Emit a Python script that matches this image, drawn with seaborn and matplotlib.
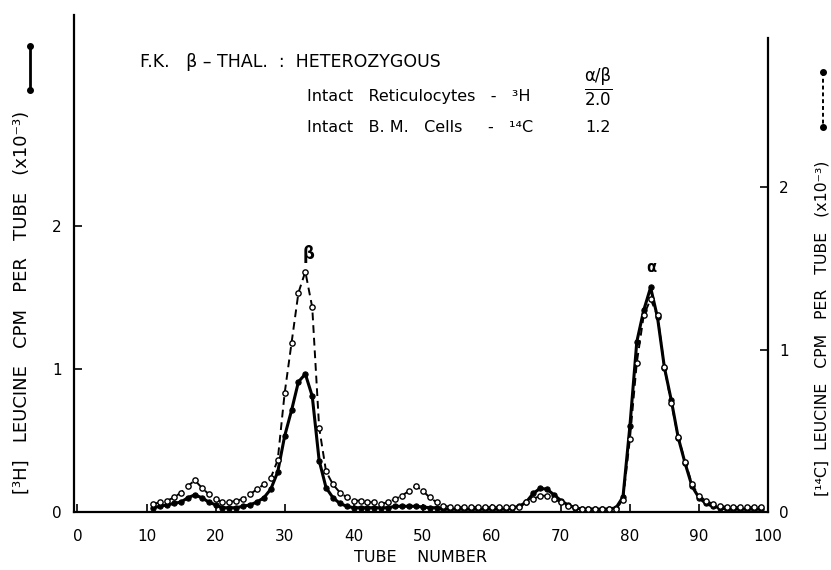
import matplotlib
matplotlib.use("Agg")
import matplotlib.pyplot as plt
import seaborn as sns
import pandas as pd
from matplotlib.lines import Line2D

# ---- data ----
tubes = list(range(11, 100))
h3_cpm = [  # [3H] leucine, left axis (x10^-3)
    0.03, 0.04, 0.05, 0.06, 0.07, 0.10, 0.12, 0.10, 0.07, 0.05,   # 11-20
    0.03, 0.03, 0.03, 0.04, 0.05, 0.07, 0.10, 0.16, 0.28, 0.53,   # 21-30
    0.71, 0.91, 0.965, 0.81, 0.36, 0.17, 0.10, 0.06, 0.04, 0.03,  # 31-40
    0.03, 0.03, 0.03, 0.03, 0.03, 0.04, 0.04, 0.04, 0.04, 0.035,  # 41-50
    0.03, 0.03, 0.02, 0.02, 0.02, 0.02, 0.02, 0.02, 0.02, 0.02,   # 51-60
    0.02, 0.02, 0.03, 0.04, 0.07, 0.13, 0.165, 0.16, 0.12, 0.08,  # 61-70
    0.05, 0.03, 0.02, 0.02, 0.02, 0.02, 0.02, 0.03, 0.105, 0.60,  # 71-80
    1.19, 1.41, 1.57, 1.36, 1.01, 0.78, 0.52, 0.34, 0.18, 0.10,   # 81-90
    0.06, 0.04, 0.03, 0.02, 0.02, 0.02, 0.02, 0.02, 0.02,         # 91-99
]
c14_cpm = [  # [14C] leucine, right axis (x10^-3)
    0.05, 0.06, 0.07, 0.09, 0.12, 0.16, 0.195, 0.15, 0.11, 0.08,  # 11-20
    0.06, 0.06, 0.07, 0.08, 0.11, 0.14, 0.17, 0.21, 0.32, 0.73,   # 21-30
    1.04, 1.35, 1.48, 1.26, 0.52, 0.25, 0.17, 0.12, 0.09, 0.07,   # 31-40
    0.07, 0.06, 0.06, 0.05, 0.06, 0.08, 0.10, 0.13, 0.16, 0.13,   # 41-50
    0.09, 0.06, 0.04, 0.03, 0.03, 0.03, 0.03, 0.03, 0.03, 0.03,   # 51-60
    0.03, 0.03, 0.03, 0.03, 0.06, 0.08, 0.10, 0.10, 0.08, 0.06,   # 61-70
    0.04, 0.03, 0.02, 0.02, 0.02, 0.02, 0.02, 0.02, 0.074, 0.45,  # 71-80
    0.92, 1.21, 1.31, 1.21, 0.89, 0.67, 0.46, 0.31, 0.17, 0.10,   # 81-90
    0.07, 0.05, 0.04, 0.03, 0.03, 0.03, 0.03, 0.03, 0.03,         # 91-99
]
x_ticks = [0, 10, 20, 30, 40, 50, 60, 70, 80, 90, 100]
left_ticks = [0, 1, 2]
right_ticks = [0, 1, 2]

df = pd.DataFrame({"tube": tubes, "h3": h3_cpm, "c14": c14_cpm})

sns.set_style("ticks")
plt.rcParams["font.family"] = ["DejaVu Sans"]
plt.rcParams["text.color"] = "black"
plt.rcParams["xtick.color"] = "black"
plt.rcParams["ytick.color"] = "black"
plt.rcParams["axes.edgecolor"] = "black"

W, H = 831, 570
fig = plt.figure(figsize=(W / 100, H / 100), dpi=100)
ax = fig.add_axes([74 / W, 1 - 512 / H, (768 - 74) / W, (512 - 15) / H])
ax2 = ax.twinx()

sns.lineplot(data=df, x="tube", y="h3", ax=ax, color="black", linewidth=2.2,
             marker="o", markersize=3.8, markerfacecolor="black",
             markeredgecolor="black")
sns.lineplot(data=df, x="tube", y="c14", ax=ax2, color="black", linewidth=1.4,
             linestyle=(0, (4, 2.5)), marker="o", markersize=3.8,
             markerfacecolor="white", markeredgecolor="black",
             markeredgewidth=1.0)

ax.set_xlim(-0.5, 100)
ax.set_ylim(0, 3.475)
ax2.set_ylim(0, 3.06)

for a in (ax, ax2):
    a.set_xlabel("")
    a.set_ylabel("")
    a.spines["top"].set_visible(False)
ax.spines["right"].set_visible(False)
ax2.spines["left"].set_visible(False)
ax2.spines["bottom"].set_visible(False)
ax2.spines["right"].set_bounds(0, 2.92)
for s in ("left", "bottom"):
    ax.spines[s].set_linewidth(1.6)
ax2.spines["right"].set_linewidth(1.6)

ax.set_xticks(x_ticks)
ax.set_xticklabels([str(t) for t in x_ticks], fontsize=11)
ax.set_yticks(left_ticks)
ax.set_yticklabels([str(t) for t in left_ticks], fontsize=11)
ax2.set_yticks(right_ticks)
ax2.set_yticklabels([str(t) for t in right_ticks], fontsize=11)
ax.tick_params(axis="x", direction="in", length=6, width=1.2, pad=12)
ax.tick_params(axis="y", direction="in", length=6, width=1.2, pad=9)
ax2.tick_params(axis="y", direction="in", length=6, width=1.2, pad=8)

def ftext(x, y, s, **kw):
    fig.text(x / W, 1 - y / H, s, **kw)

ftext(420, 558, "TUBE    NUMBER", ha="center", va="center", fontsize=11.5)
ftext(22, 302, "[³H]   LEUCINE   CPM   PER   TUBE   (x10⁻³)", rotation=90,
      ha="center", va="center", fontsize=13)
ftext(822, 328, "[¹⁴C]  LEUCINE   CPM   PER   TUBE   (x10⁻³)", rotation=90,
      ha="center", va="center", fontsize=11.3)

ftext(140, 62, "F.K.   β – THAL.  :  HETEROZYGOUS", ha="left", va="center",
      fontsize=12.5)
ftext(307, 97, "Intact   Reticulocytes   -   ³H", ha="left", va="center",
      fontsize=11.5)
ftext(307, 127, "Intact   B. M.   Cells     -   ¹⁴C", ha="left", va="center",
      fontsize=11.5)
ftext(598, 76, "α/β", ha="center", va="center", fontsize=12)
ftext(598, 99, r"$\overline{\mathrm{2.0}}$", ha="center", va="center",
      fontsize=12)
ftext(598, 128, "1.2", ha="center", va="center", fontsize=11.5)
ftext(309, 254, "β", ha="center", va="center", fontsize=12, fontweight="bold")
ftext(651, 268, "α", ha="center", va="center", fontsize=10.5, fontweight="bold")

# legend keys
fig.add_artist(Line2D([30 / W, 30 / W], [1 - 46 / H, 1 - 90 / H],
                      color="black", linewidth=2, marker="o", markersize=4))
fig.add_artist(Line2D([823 / W, 823 / W], [1 - 72 / H, 1 - 127 / H],
                      color="black", linewidth=1.4, linestyle=(0, (2, 1.5)),
                      marker="o", markersize=4))

fig.savefig("out.png", dpi=100)
